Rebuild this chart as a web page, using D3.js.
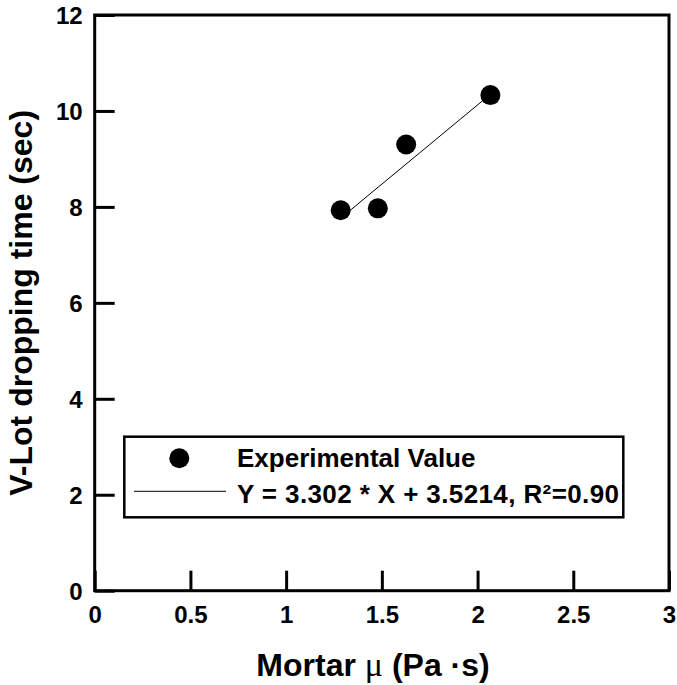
<!DOCTYPE html>
<html>
<head>
<meta charset="utf-8">
<script src="https://cdn.jsdelivr.net/npm/d3@7"></script>
<style>
  html, body { margin: 0; padding: 0; background: #fff; }
  svg { display: block; }
  text { font-family: "Liberation Sans", Arial, sans-serif; font-weight: bold; fill: #000; }
</style>
</head>
<body>
<script>
// ---- data ----
const mortarViscosity = [1.285, 1.479, 1.627, 2.067];
const dropTime = [7.93, 7.97, 9.30, 10.33];
const fitSlope = 3.302;
const fitIntercept = 3.5214;
const xTicks = [0, 0.5, 1, 1.5, 2, 2.5, 3];
const yTicks = [0, 2, 4, 6, 8, 10, 12];
const legendLabels = ["Experimental Value", "Y = 3.302 * X + 3.5214, R\u00B2=0.90"];

const W = 677, H = 685;
const L = 94.7, T = 15, R = 669, B = 590.7;

const svg = d3.select("body").append("svg").attr("width", W).attr("height", H);

const x = d3.scaleLinear().domain([0, 3]).range([L, R]);
const y = d3.scaleLinear().domain([0, 12]).range([B, T]);

// axes
const xAxis = d3.axisBottom(x).tickValues(xTicks).tickSize(-20).tickFormat(d3.format("~g"));
const gx = svg.append("g").attr("transform", `translate(0,${B})`).call(xAxis);
gx.select(".domain").remove();
gx.selectAll(".tick line").attr("stroke", "#000").attr("stroke-width", 3);
gx.selectAll(".tick text").attr("y", 32).attr("dy", 0)
  .style("font-size", "24px").style("font-family", "'Liberation Sans', Arial, sans-serif").style("font-weight", "bold");

const yAxis = d3.axisLeft(y).tickValues(yTicks).tickSize(-20).tickFormat(d3.format("~g"));
const gy = svg.append("g").attr("transform", `translate(${L},0)`).call(yAxis);
gy.select(".domain").remove();
gy.selectAll(".tick line").attr("stroke", "#000").attr("stroke-width", 3);
gy.selectAll(".tick text").attr("x", -12).attr("dy", "0.36em")
  .style("font-size", "24px").style("font-family", "'Liberation Sans', Arial, sans-serif").style("font-weight", "bold");

// frame
svg.append("rect").attr("x", L).attr("y", T).attr("width", R - L).attr("height", B - T)
  .attr("fill", "none").attr("stroke", "#000").attr("stroke-width", 3);

// fit line
const xMin = d3.min(mortarViscosity), xMax = d3.max(mortarViscosity);
const line = d3.line().x(d => x(d)).y(d => y(fitSlope * d + fitIntercept));
svg.append("path").datum([xMin, xMax]).attr("d", line)
  .attr("fill", "none").attr("stroke", "#000").attr("stroke-width", 1);

// points
svg.append("g").selectAll("circle").data(mortarViscosity).join("circle")
  .attr("cx", d => x(d)).attr("cy", (d, i) => y(dropTime[i])).attr("r", 10).attr("fill", "#000");

// legend
const lg = svg.append("g");
lg.append("rect").attr("x", 124.3).attr("y", 436.7).attr("width", 499).attr("height", 80.6)
  .attr("fill", "#fff").attr("stroke", "#000").attr("stroke-width", 2.5);
lg.append("circle").attr("cx", 179.3).attr("cy", 458.3).attr("r", 10).attr("fill", "#000");
lg.append("line").attr("x1", 134).attr("x2", 226).attr("y1", 491.3).attr("y2", 491.3)
  .attr("stroke", "#000").attr("stroke-width", 1);
lg.append("text").attr("x", 237).attr("y", 467).style("font-size", "26px").text(legendLabels[0]);
lg.append("text").attr("x", 237).attr("y", 503).style("font-size", "26px")
  .attr("textLength", 382).attr("lengthAdjust", "spacing").text(legendLabels[1]);

// axis titles
const xt = svg.append("text").attr("x", 373).attr("y", 676).attr("text-anchor", "middle").style("font-size", "32px");
xt.append("tspan").text("Mortar ");
xt.append("tspan").style("font-family", "'Liberation Serif', 'Times New Roman', serif").style("font-weight", "normal").style("font-size", "34px").text("\u03BC");
xt.append("tspan").text(" (Pa \u00B7s)");

svg.append("text").attr("transform", `translate(32,${(T + B) / 2}) rotate(-90)`)
  .attr("text-anchor", "middle").style("font-size", "32px").text("V-Lot dropping time (sec)");
</script>
</body>
</html>
